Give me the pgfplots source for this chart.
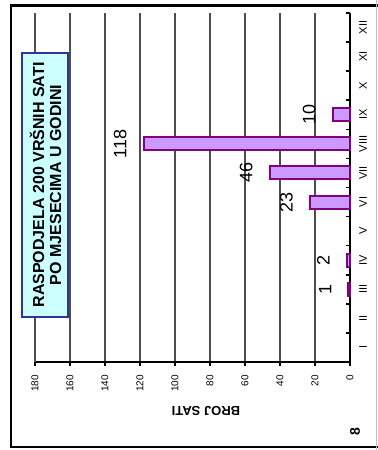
\documentclass[border=0pt]{standalone}
\usepackage{pgfplots}
\pgfplotsset{compat=1.18}
\usepackage{fontspec}
\setmainfont{Liberation Sans}
\definecolor{barfill}{HTML}{CC99FF}
\definecolor{baredge}{HTML}{800080}
\definecolor{boxfill}{HTML}{CCFFFF}
\definecolor{boxedge}{HTML}{333399}
\definecolor{gridc}{HTML}{4D4D4D}
\begin{document}
\begin{tikzpicture}[x=1bp,y=1bp]
\useasboundingbox (0,0) rectangle (377,-450);
\fill[white] (0,0) rectangle (377,-450);
\begin{axis}[
  at={(192.5bp,-187.5bp)}, anchor=center,
  scale only axis, width=315bp, height=349bp,
  xbar, bar width=13bp,
  x dir=reverse,
  xmin=0, xmax=180, ymin=0.5, ymax=12.5,
  axis x line*=bottom, axis y line*=right,
  axis line style={black, line width=2bp},
  /pgf/number format/assume math mode=true,
  tick align=outside, major tick length=4bp,
  tick style={black, line width=1.5bp},
  xtick={0,20,...,160},
  extra x ticks={180},
  extra x tick style={grid style={gray!35, line width=0.8bp}},
  xmajorgrids, major grid style={gridc, line width=2bp},
  xticklabel style={font=\fontsize{10bp}{12bp}\selectfont, rotate=90, anchor=east, inner sep=0pt},
  xticklabel shift=9bp,
  ytick={0.5,1.5,...,12.5}, yticklabels={},
  ytick style={xshift=-4bp},
  extra y ticks={1,2,...,12},
  extra y tick labels={I,II,III,IV,V,VI,VII,VIII,IX,X,XI,XII},
  extra y tick style={major tick length=0pt},
  yticklabel style={font=\fontsize{11bp}{13bp}\selectfont, rotate=90, anchor=north, inner sep=0pt},
  yticklabel shift=9bp,
  clip=false,
]
\addplot[fill=barfill, draw=baredge, line width=2bp,
  nodes near coords,
  every node near coord/.append style={rotate=90, anchor=south, text=black,
     font=\fontsize{18bp}{20bp}\selectfont, inner xsep=0pt, inner ysep=16bp}]
  coordinates {(1,3) (2,4) (23,6) (46,7) (118,8) (10,9)};
\end{axis}
% title box
\draw[boxedge, fill=boxfill, line width=2bp] (22,-53) rectangle (68,-317);
\node[rotate=90, align=center, font=\bfseries\fontsize{16bp}{17bp}\selectfont] at (45.5,-185) {RASPODJELA 200 VR\v{S}NIH SATI\\PO MJESECIMA U GODINI};
% axis title
\node[rotate=180, font=\bfseries\fontsize{13bp}{15bp}\selectfont] at (206,-411) {BROJ SATI};
% page number
\node[rotate=90, font=\bfseries\fontsize{14bp}{16bp}\selectfont] at (355,-432) {8};
% frame
\draw[black, line width=2.5bp] (380,-5.5) -- (11,-5.5) -- (11,-447) -- (380,-447);
\draw[gray!50, line width=0.8bp] (376.5,0) -- (376.5,-450);
\end{tikzpicture}
\end{document}
